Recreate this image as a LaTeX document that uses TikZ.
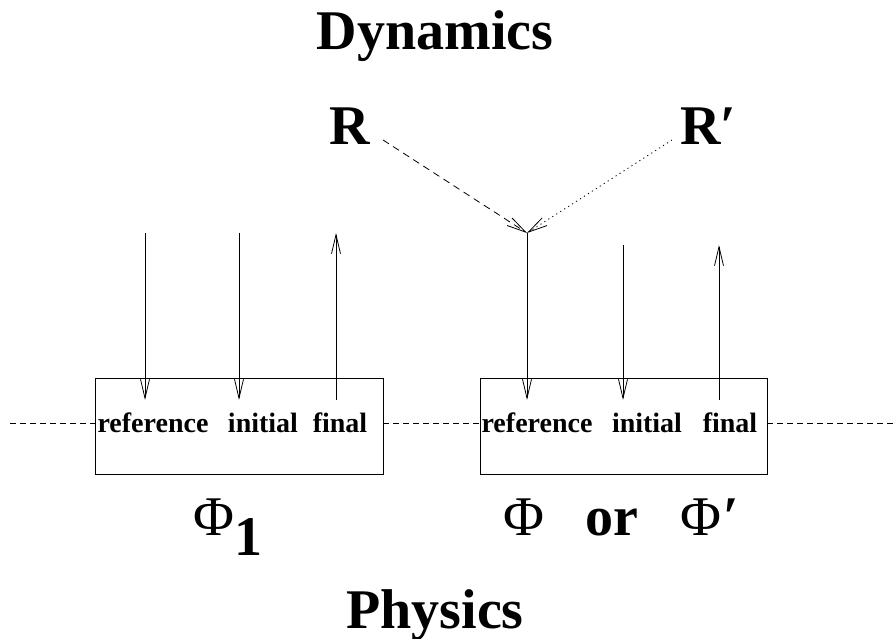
\documentclass[tikz,border=0pt]{standalone}
\usepackage{fontspec}
\newfontfamily\fa{Liberation Serif}
\usetikzlibrary{arrows.meta}
\begin{document}
\begin{tikzpicture}[x=1pt,y=-1pt,
  big/.style={font=\fa\bfseries\fontsize{56}{60}\selectfont, inner sep=0pt, anchor=base},
  lbl/.style={font=\fa\bfseries\fontsize{28}{30}\selectfont, inner sep=0pt, anchor=base},
  phi/.style={font=\fa\fontsize{56}{60}\selectfont, inner sep=0pt, anchor=base},
  boxstyle/.style={draw, line width=0.8pt},
  arr/.style={line width=0.8pt, -{Straight Barb[length=19pt,width=9pt,line width=0.8pt]}},
  sepline/.style={dash pattern=on 6pt off 4pt, line width=0.7pt}]
\useasboundingbox (0,0) rectangle (896,639);
% titles
\node[big] (dyn) at (435,50) {Dynamics};
\node[big] (phys) at (435,628) {Physics};
\node[big] (R) at (350,145) {R};
\node[big, anchor=base west] (Rp) at (680,145) {R′};
% boxes
\node[boxstyle, minimum width=288pt, minimum height=96pt, inner sep=0pt] (box1) at (239,426) {};
\node[boxstyle, minimum width=287pt, minimum height=96pt, inner sep=0pt] (box2) at (623.5,426) {};
% separator line
\coordinate (lstart) at (10,423);
\coordinate (rend) at (896,423);
\draw[sepline] (lstart) -- (box1.west |- lstart);
\draw[sepline] (box1.east |- lstart) -- (box2.west |- lstart);
\draw[sepline] (box2.east |- lstart) -- (rend);
% labels in boxes
\node[lbl] (ref1) at (153,432) {reference};
\node[lbl] (ini1) at (263,432) {initial};
\node[lbl] (fin1) at (340,432) {final};
\node[lbl] (ref2) at (537,432) {reference};
\node[lbl] (ini2) at (647,432) {initial};
\node[lbl] (fin2) at (730,432) {final};
% arrow coordinates
\coordinate (a1t) at (145,233); \coordinate (a1b) at (145,400);
\coordinate (a2t) at (239,233); \coordinate (a2b) at (239,400);
\coordinate (a3t) at (336,233); \coordinate (a3b) at (336,400);
\coordinate (m) at (527,233); \coordinate (b1b) at (527,400);
\coordinate (b2t) at (623,245); \coordinate (b2b) at (623,400);
\coordinate (b3t) at (719,245); \coordinate (b3b) at (719,400);
\coordinate (Rs) at (383,140); \coordinate (Rps) at (672,140);
\draw[arr] (a1t) -- (a1b);
\draw[arr] (a2t) -- (a2b);
\draw[arr] (a3b) -- (a3t);
\draw[arr] (m) -- (b1b);
\draw[arr] (b2t) -- (b2b);
\draw[arr] (b3b) -- (b3t);
\draw[arr, dash pattern=on 7pt off 5pt] (Rs) -- (m);
\draw[arr, dash pattern=on 1.2pt off 3.5pt] (Rps) -- (m);
% phi labels
\node[phi] (phi1) at (214,535) {Φ};
\node[big, anchor=base west] (one) at (234,555) {1};
\node[phi] (phi) at (524,535) {Φ};
\node[big] (or) at (612,535) {or};
\node[phi, anchor=base west] (phip) at (680,535) {Φ};
\node[big, anchor=base west] (prime) at (723,535) {′};
\end{tikzpicture}
\end{document}
